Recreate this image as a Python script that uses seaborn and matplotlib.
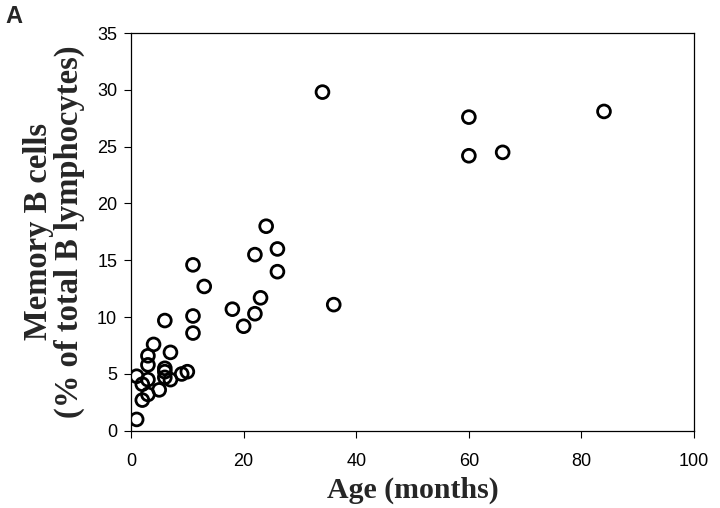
import matplotlib
matplotlib.use("Agg")
import matplotlib.pyplot as plt
import numpy as np
import pandas as pd
import seaborn as sns

# Data
age_months = [34, 60, 60, 66, 84,
              24, 22, 26, 26, 23, 18, 22, 20, 36,
              11, 13, 11, 11, 6,
              4, 7, 3, 3, 6, 6, 10, 9, 1, 7, 3, 2, 5, 3, 2, 1, 6]
memory_b = [29.8, 27.6, 24.2, 24.5, 28.1,
            18.0, 15.5, 16.0, 14.0, 11.7, 10.7, 10.3, 9.2, 11.1,
            14.6, 12.7, 10.1, 8.6, 9.7,
            7.6, 6.9, 6.6, 5.8, 5.5, 5.2, 5.2, 5.0, 4.8, 4.5, 4.5, 2.7, 3.6, 3.2, 4.1, 1.0, 4.7]

x_ticks = [0, 20, 40, 60, 80, 100]
y_ticks = [0, 5, 10, 15, 20, 25, 30, 35]

df = pd.DataFrame({"age": age_months, "memory": memory_b})

sns.set_style("ticks")
plt.rcParams['font.family'] = ['Liberation Sans', 'DejaVu Sans']

fig = plt.figure(figsize=(7.2, 5.08), dpi=100)
ax = fig.add_axes([0.182, 0.152, 0.782, 0.783])

sns.scatterplot(data=df, x="age", y="memory", ax=ax, s=85,
                facecolor="none", edgecolor="black", linewidth=2.0, legend=False)

ax.set_xlim(0, 100)
ax.set_ylim(0, 35)
ax.set_xticks(x_ticks)
ax.set_yticks(y_ticks)
ax.tick_params(axis="x", labelsize=13, length=5, width=0.8, direction="out",
               colors="black", pad=11)
ax.tick_params(axis="y", labelsize=13, length=5, width=0.8, direction="out",
               colors="black", pad=5)
for side in ["left", "bottom", "top", "right"]:
    ax.spines[side].set_visible(True)
    ax.spines[side].set_linewidth(0.9)
    ax.spines[side].set_color("black")

ax.set_xlabel("Age (months)", fontsize=21.5, fontweight="bold",
              family="Liberation Serif", labelpad=5)
ax.set_ylabel("Memory B cells\n(% of total B lymphocytes)", fontsize=23.5,
              fontweight="bold", family="Liberation Serif", labelpad=9,
              linespacing=0.95)

fig.text(0.008, 0.99, "A", fontsize=17, fontweight="bold", va="top", ha="left")

fig.savefig("out.png", dpi=100)
